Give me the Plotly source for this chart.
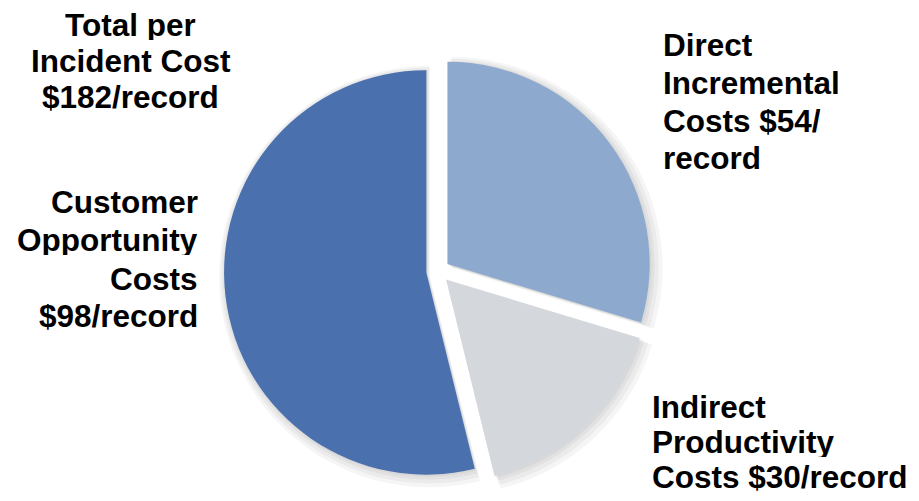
import plotly.graph_objects as go

W, H = 919, 501
OFF = 8  # default page body margin offsets the figure in the window

labels = ["Direct Incremental Costs", "Indirect Productivity Costs", "Customer Opportunity Costs"]
values = [54, 30, 98]
colors = ["#8ea9ce", "#d4d8dd", "#4a70ae"]
total_lines = ["Total per", "Incident Cost", "$182/record"]
direct_lines = ["Direct", "Incremental", "Costs $54/", "record"]
indirect_lines = ["Indirect", "Productivity", "Costs $30/record"]
customer_lines = ["Customer", "Opportunity", "Costs", "$98/record"]


def px(x):
    return (x - OFF) / W


def py(y):
    return 1 - (y - OFF) / H


cx, cy, half = 438, 271, 214
pulls = [0.058, 0.058, 0.058]

fig = go.Figure()

# soft drop shadow: several faint, slightly larger copies behind the pie
for grow, off in [(9, 4), (6, 3), (3, 2), (1, 1)]:
    h = half + grow
    fig.add_trace(go.Pie(
        values=values,
        sort=False,
        direction="clockwise",
        rotation=0,
        pull=pulls,
        marker=dict(colors=["rgba(0,0,0,0.04)"] * 3),
        textinfo="none",
        hoverinfo="skip",
        showlegend=False,
        domain=dict(x=[px(cx + off - h), px(cx + off + h)], y=[py(cy + off + h), py(cy + off - h)]),
    ))

fig.add_trace(go.Pie(
    labels=labels,
    values=values,
    sort=False,
    direction="clockwise",
    rotation=0,
    pull=pulls,
    marker=dict(colors=colors, line=dict(color="white", width=0)),
    textinfo="none",
    hoverinfo="label+value",
    showlegend=False,
    domain=dict(x=[px(cx - half), px(cx + half)], y=[py(cy + half), py(cy - half)]),
))

FS = 31.5
font = dict(family="Liberation Sans, Arial, sans-serif", size=FS, color="black", weight="bold")


def add_block(lines, x, baselines, xanchor):
    for line, b in zip(lines, baselines):
        fig.add_annotation(
            text=line, x=px(x), y=py(b - 0.35 * FS),
            xref="paper", yref="paper", showarrow=False,
            xanchor=xanchor, yanchor="middle", font=font, borderpad=0,
            height=30,
        )


add_block(total_lines, 131, [36, 72, 108], "center")
add_block(customer_lines, 199, [213, 251, 290, 327], "right")
add_block(direct_lines, 662, [56, 94, 132, 169], "left")
add_block(indirect_lines, 651, [418, 453, 488], "left")

fig.update_layout(
    width=W, height=H,
    margin=dict(l=0, r=0, t=0, b=0),
    paper_bgcolor="white",
    plot_bgcolor="white",
)

fig.write_html("out.html")
